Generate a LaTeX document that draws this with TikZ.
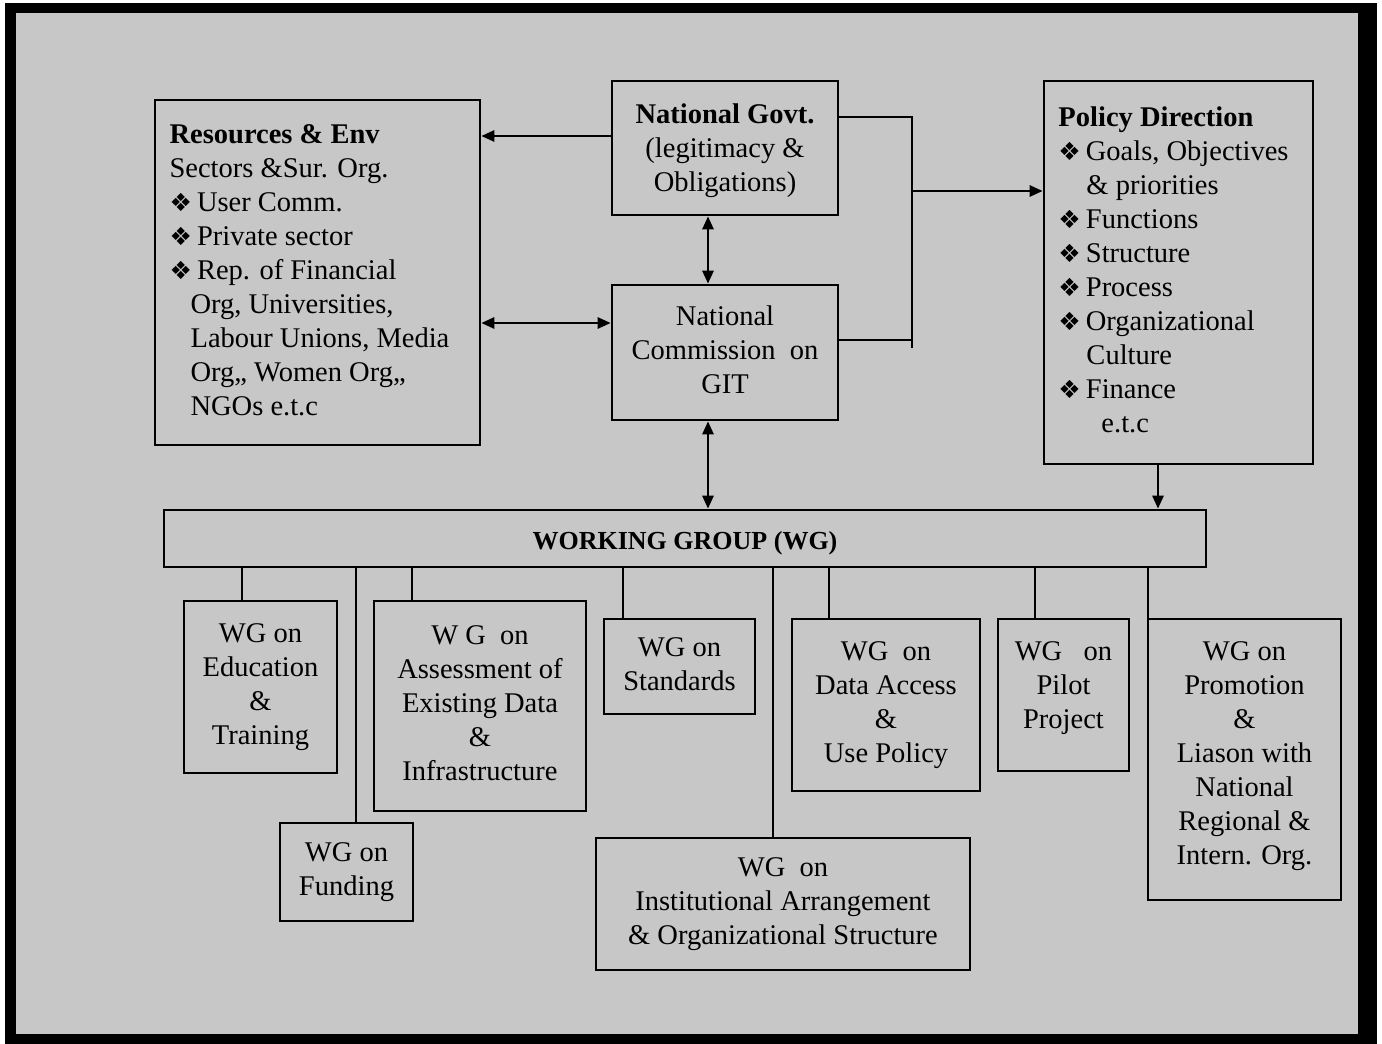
\documentclass[tikz,border=0pt]{standalone}
\usepackage{fontspec}
\setmainfont{Liberation Serif}
\newfontfamily\symfont{DejaVu Sans}
\usetikzlibrary{arrows.meta}
% diamond bullet used in the item lists
\newcommand{\bul}{{\symfont\fontsize{25}{20}\selectfont ❖}\hspace{5pt}}
% stacked lines inside a box
\newcommand{\boxlines}[2]{\begin{tabular}{@{}#1@{}}#2\end{tabular}}
% move box content vertically without changing its size
\newcommand{\nudge}[2]{\raisebox{#1}[\height][\depth]{#2}}

\begin{document}
\begin{tikzpicture}[x=1pt,y=-1pt,
  box/.style={draw, line width=2.6pt, inner sep=0pt,
              font=\fontsize{28.5}{34}\selectfont},
  link/.style={line width=2.6pt},
  tip/.style={-{Triangle[length=13pt,width=11pt]}},
  twoway/.style={{Triangle[length=13pt,width=11pt]}-{Triangle[length=13pt,width=11pt]}}
]
\useasboundingbox (0,0) rectangle (1382,1044);
% frame and screened background
\fill[white] (0,0) rectangle (1382,1044);
\fill[black] (5,3) rectangle (1377,1044);
\fill[black!22] (16,13) rectangle (1358,1034);

% upper level
\node[box, minimum width=325, minimum height=345] (res) at (317.5,272.5) {\boxlines{l}{%
{\bfseries Resources \& Env}\\
Sectors \&Sur. Org.\\
\bul User Comm.\\
\bul Private sector\\
\bul Rep. of Financial\\
\hspace{21pt}Org, Universities,\\
\hspace{21pt}Labour Unions, Media\\
\hspace{21pt}Org,, Women Org,,\\
\hspace{21pt}NGOs e.t.c}\kern16pt};

\node[box, minimum width=226, minimum height=134] (ng) at (725,148)
  {\nudge{-3pt}{\boxlines{c}{{\bfseries National Govt.}\\(legitimacy \&\\Obligations)}}};
\node[box, minimum width=226, minimum height=135] (com) at (725,352.5)
  {\boxlines{c}{National\\Commission\ \ on\\GIT}};

\node[box, minimum width=269, minimum height=383] (pol) at (1178.5,272.5) {\boxlines{l}{%
{\bfseries Policy Direction}\\
\bul Goals, Objectives\\
\hspace{28pt}\& priorities\\
\bul Functions\\
\bul Structure\\
\bul Process\\
\bul Organizational\\
\hspace{28pt}Culture\\
\bul Finance\\
\hspace{43pt}e.t.c}\kern10pt};

% working group bar
\node[box, minimum width=1042, minimum height=57, text height=24pt, text depth=2pt,
      font=\fontsize{26}{28}\selectfont\bfseries]
  (wg) at (685,538.5) {WORKING GROUP (WG)};

% working groups
\node[box, minimum width=153, minimum height=172] (edu) at (260.5,687)
  {\boxlines{c}{WG on\\Education\\\&\\Training}};
\node[box, minimum width=212, minimum height=210] (ass) at (480,706)
  {\boxlines{c}{W G\ \ on\\Assessment of\\Existing Data\\\&\\Infrastructure}};
\node[box, minimum width=133, minimum height=98] (fund) at (346.5,872)
  {\boxlines{c}{WG on\\Funding}};
\node[box, minimum width=151, minimum height=95] (std) at (679.5,666.5)
  {\boxlines{c}{WG on\\Standards}};
\node[box, minimum width=188, minimum height=172] (dat) at (886,705)
  {\boxlines{c}{WG\ \ on\\Data Access\\\&\\Use Policy}};
\node[box, minimum width=131, minimum height=152] (pil) at (1063.5,695)
  {\nudge{7pt}{\boxlines{c}{WG\ \ \ on\\Pilot\\Project}}};
\node[box, minimum width=193, minimum height=281] (pro) at (1244.5,759.5)
  {\nudge{4pt}{\boxlines{c}{WG on\\Promotion\\\&\\Liason with\\National\\Regional \&\\Intern. Org.}}};
\node[box, minimum width=374, minimum height=132] (ins) at (783,904)
  {\boxlines{c}{WG\ \ on\\Institutional Arrangement\\\& Organizational Structure}};

% links among the upper boxes
\draw[link,tip] (ng.west |- 0,136) -- (res.east |- 0,136);
\draw[link,twoway] (res.east |- 0,323) -- (com.west |- 0,323);
\draw[link,twoway] (ng.south -| 708,0) -- (com.north -| 708,0);
\draw[link,twoway] (com.south -| 708,0) -- (wg.north -| 708,0);

\coordinate (jtop) at (912,117);
\coordinate (jbot) at (912,348);
\coordinate (jmid) at (912,191);
\draw[link] (ng.east |- jtop) -- (jtop) -- (jbot);
\draw[link] (com.east |- 0,340) -- (912,340);
\draw[link,tip] (jmid) -- (pol.west |- jmid);
\draw[link,tip] (pol.south -| 1158,0) -- (wg.north -| 1158,0);

% drops from the bar to each working group
\draw[link] (wg.south -| 242,0) -- (edu.north -| 242,0);
\draw[link] (wg.south -| 356,0) -- (fund.north -| 356,0);
\draw[link] (wg.south -| 412,0) -- (ass.north -| 412,0);
\draw[link] (wg.south -| 623,0) -- (std.north -| 623,0);
\draw[link] (wg.south -| 773,0) -- (ins.north -| 773,0);
\draw[link] (wg.south -| 829,0) -- (dat.north -| 829,0);
\draw[link] (wg.south -| 1035,0) -- (pil.north -| 1035,0);
\draw[link] (wg.south -| 1148,0) -- (pro.north -| 1148,0);
\end{tikzpicture}
\end{document}
